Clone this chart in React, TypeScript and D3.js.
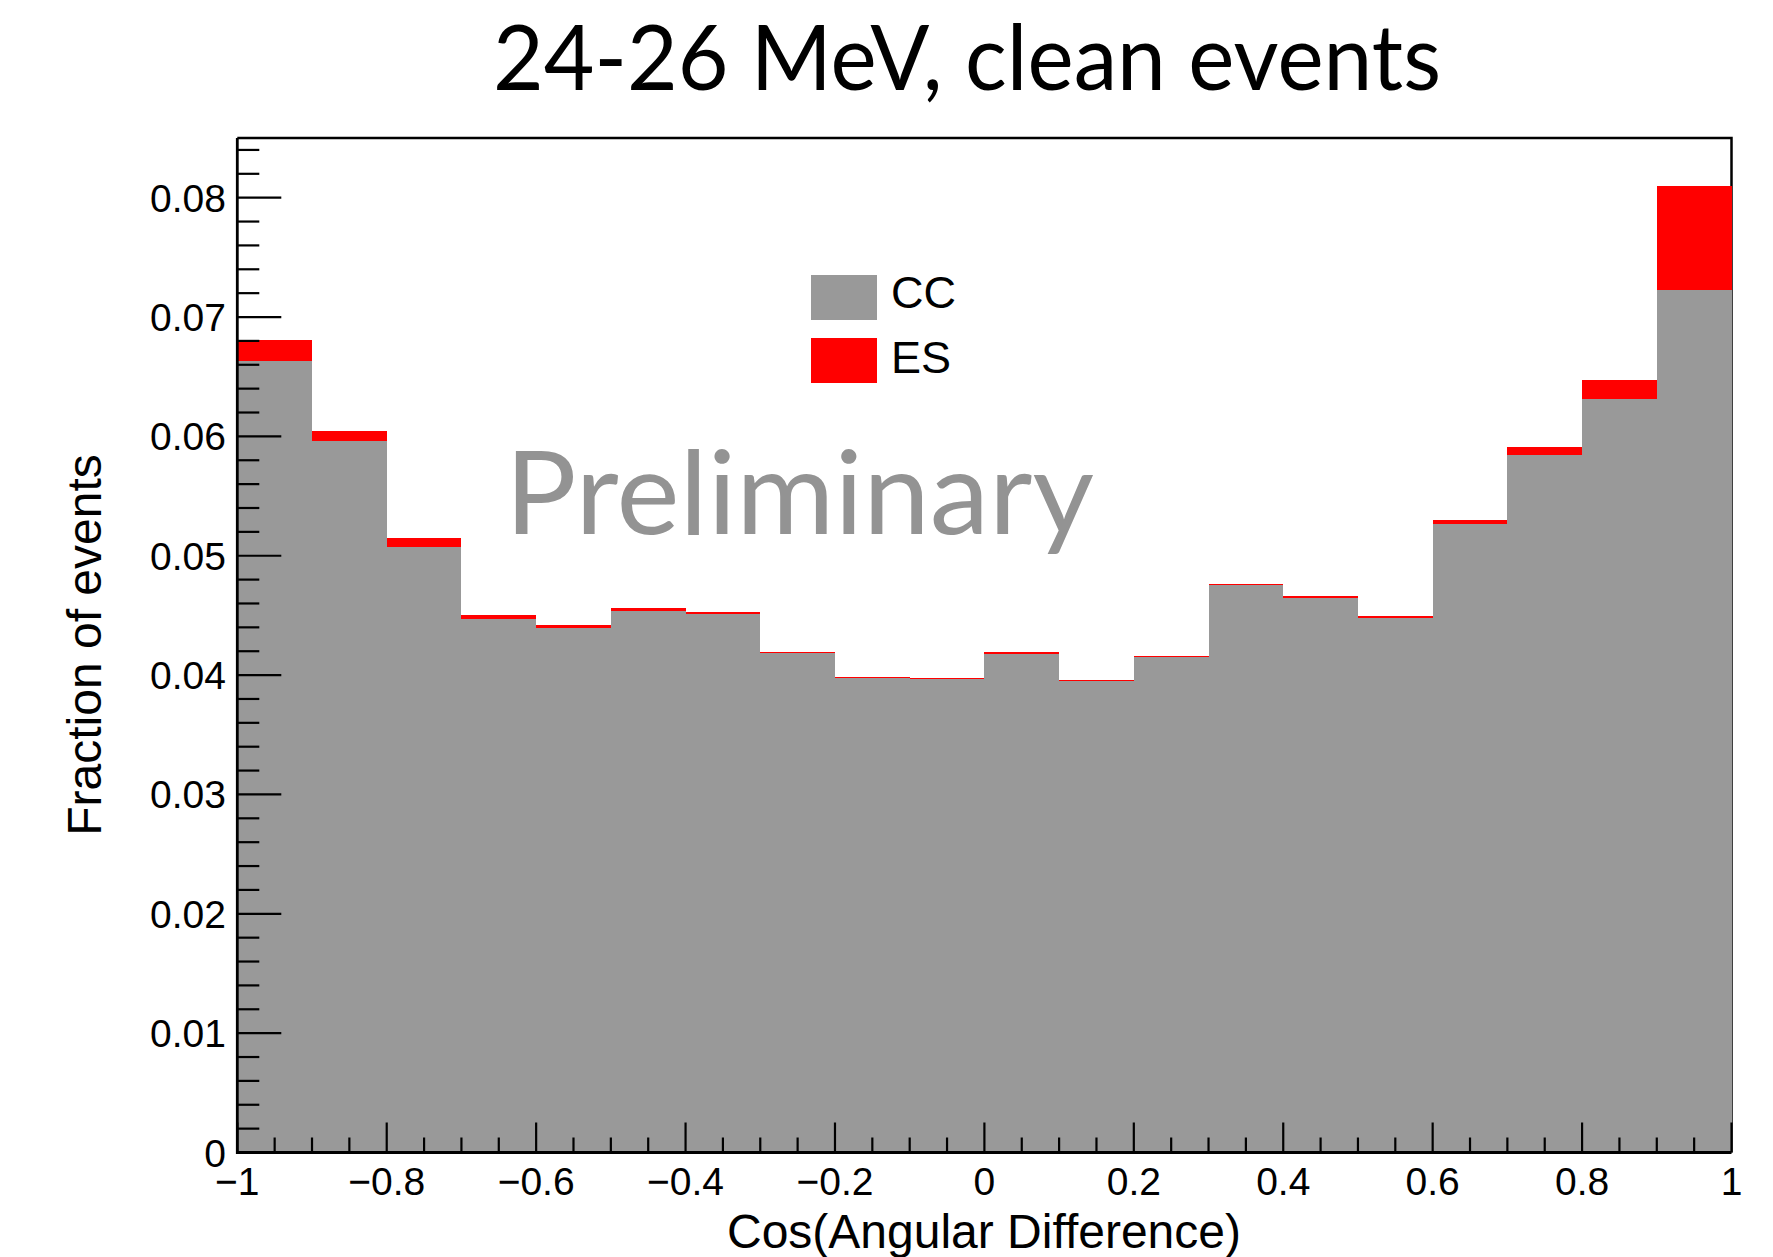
import React from "react";
import * as d3 from "d3";

// Bin lower edges of cos(angular difference), 20 bins of width 0.1
const binLow: number[] = [
  -1.0, -0.9, -0.8, -0.7, -0.6, -0.5, -0.4, -0.3, -0.2, -0.1,
  0.0, 0.1, 0.2, 0.3, 0.4, 0.5, 0.6, 0.7, 0.8, 0.9,
];
const binWidth = 0.1;

// Fraction of events per bin, CC component
const ccFrac: number[] = [
  0.06629, 0.05965, 0.05075, 0.04467, 0.04394, 0.04536, 0.04511, 0.04182, 0.03975, 0.03964,
  0.0418, 0.0395, 0.04151, 0.04751, 0.04645, 0.04475, 0.0527, 0.05848, 0.06311, 0.07224,
];
// Fraction of events per bin, ES component stacked on top
const esFrac: number[] = [
  0.00182, 0.00076, 0.0007, 0.00039, 0.00028, 0.00029, 0.00017, 0.00008, 0.00012, 0.00015,
  0.00016, 0.00008, 0.00006, 0.00011, 0.00014, 0.00017, 0.00026, 0.00061, 0.00165, 0.0087,
];

const xTickLabels: string[] = ["−1", "−0.8", "−0.6", "−0.4", "−0.2", "0", "0.2", "0.4", "0.6", "0.8", "1"];
const yTickLabels: string[] = ["0", "0.01", "0.02", "0.03", "0.04", "0.05", "0.06", "0.07", "0.08"];

const W = 1773;
const H = 1257;
const left = 237.3;
const right = 1731.5;
const top = 138;
const bottom = 1152.5;

const AX_FONT = "'Liberation Sans', Arial, Helvetica, sans-serif";
const TITLE_FONT = "Lato, 'Open Sans', sans-serif";

export default function App() {
  const x = d3.scaleLinear().domain([-1, 1]).range([left, right]);
  const y = d3.scaleLinear().domain([0, 0.085]).range([bottom, top]);

  const rows = binLow.map((lo, i) => ({ lo, CC: ccFrac[i], ES: esFrac[i] }));
  const stacked = d3.stack<any>().keys(["CC", "ES"])(rows);
  const colors: Record<string, string> = { CC: "#999999", ES: "#ff0000" };

  const yMajor = d3.range(0, 0.0801, 0.01);
  const yMinor = d3.range(0, 0.0851, 0.002).filter((v) => Math.abs(v / 0.01 - Math.round(v / 0.01)) > 1e-6);
  const xMajor = d3.range(-1, 1.0001, 0.2);
  const xMinor = d3.range(-1, 1.0001, 0.05).filter((v) => Math.abs((v + 1) / 0.2 - Math.round((v + 1) / 0.2)) > 1e-6);

  return (
    <svg
      width={W}
      height={H}
      viewBox={`0 0 ${W} ${H}`}
      style={{ position: "absolute", left: 0, top: 0, background: "#fff" }}
    >
      <rect x={0} y={0} width={W} height={H} fill="#fff" />

      {/* title */}
      <text
        x={967}
        y={90}
        textAnchor="middle"
        fontFamily={TITLE_FONT}
        fontSize={92}
        textLength={948}
        lengthAdjust="spacingAndGlyphs"
        fill="#000"
      >
        24-26 MeV, clean events
      </text>

      {/* frame: top and right edges */}
      <path
        d={`M${left},${top} H${right} V${bottom}`}
        fill="none"
        stroke="#000"
        strokeWidth={2.5}
      />

      {/* stacked histogram */}
      {stacked.map((layer) => (
        <g key={layer.key} fill={colors[layer.key]} shapeRendering="crispEdges">
          {layer.map((d: any, i: number) => {
            const lo = binLow[i];
            return (
              <rect
                key={i}
                x={x(lo)}
                width={x(lo + binWidth) - x(lo)}
                y={y(d[1])}
                height={Math.max(0, y(d[0]) - y(d[1]))}
              />
            );
          })}
        </g>
      ))}

      {/* watermark */}
      <text
        x={505}
        y={534}
        fontFamily={TITLE_FONT}
        fontSize={116}
        textLength={589}
        lengthAdjust="spacingAndGlyphs"
        fill="#939393"
      >
        Preliminary
      </text>

      {/* legend */}
      <rect x={811} y={275} width={66} height={45} fill={colors.CC} />
      <rect x={811} y={338} width={66} height={45} fill={colors.ES} />
      <text x={891} y={308} fontFamily={AX_FONT} fontSize={45} fill="#000">CC</text>
      <text x={891} y={373} fontFamily={AX_FONT} fontSize={45} fill="#000">ES</text>

      {/* y axis */}
      <g stroke="#000" strokeWidth={2.2}>
        {yMajor.map((v) => (
          <line key={`ym${v}`} x1={left} x2={left + 44} y1={y(v)} y2={y(v)} />
        ))}
        {yMinor.map((v) => (
          <line key={`yn${v}`} x1={left} x2={left + 22} y1={y(v)} y2={y(v)} />
        ))}
      </g>
      {yMajor.map((v, i) => (
        <text
          key={`yl${i}`}
          x={226}
          y={y(v)}
          dy="0.36em"
          textAnchor="end"
          fontFamily={AX_FONT}
          fontSize={39}
          fill="#000"
        >
          {yTickLabels[i]}
        </text>
      ))}

      {/* x axis */}
      <g stroke="#000" strokeWidth={2.2}>
        {xMajor.map((v) => (
          <line key={`xm${v}`} x1={x(v)} x2={x(v)} y1={bottom} y2={bottom - 30} />
        ))}
        {xMinor.map((v) => (
          <line key={`xn${v}`} x1={x(v)} x2={x(v)} y1={bottom} y2={bottom - 15} />
        ))}
      </g>
      {xMajor.map((v, i) => (
        <text
          key={`xl${i}`}
          x={x(v)}
          y={1195}
          textAnchor="middle"
          fontFamily={AX_FONT}
          fontSize={39}
          fill="#000"
        >
          {xTickLabels[i]}
        </text>
      ))}

      {/* left and bottom axis lines */}
      <path
        d={`M${left},${top} V${bottom} H${right}`}
        fill="none"
        stroke="#000"
        strokeWidth={2.8}
      />

      {/* axis titles */}
      <text
        x={984}
        y={1248}
        textAnchor="middle"
        fontFamily={AX_FONT}
        fontSize={48}
        fill="#000"
      >
        Cos(Angular Difference)
      </text>
      <text
        transform={`translate(101, 645) rotate(-90)`}
        textAnchor="middle"
        fontFamily={AX_FONT}
        fontSize={48}
        fill="#000"
      >
        Fraction of events
      </text>
    </svg>
  );
}
